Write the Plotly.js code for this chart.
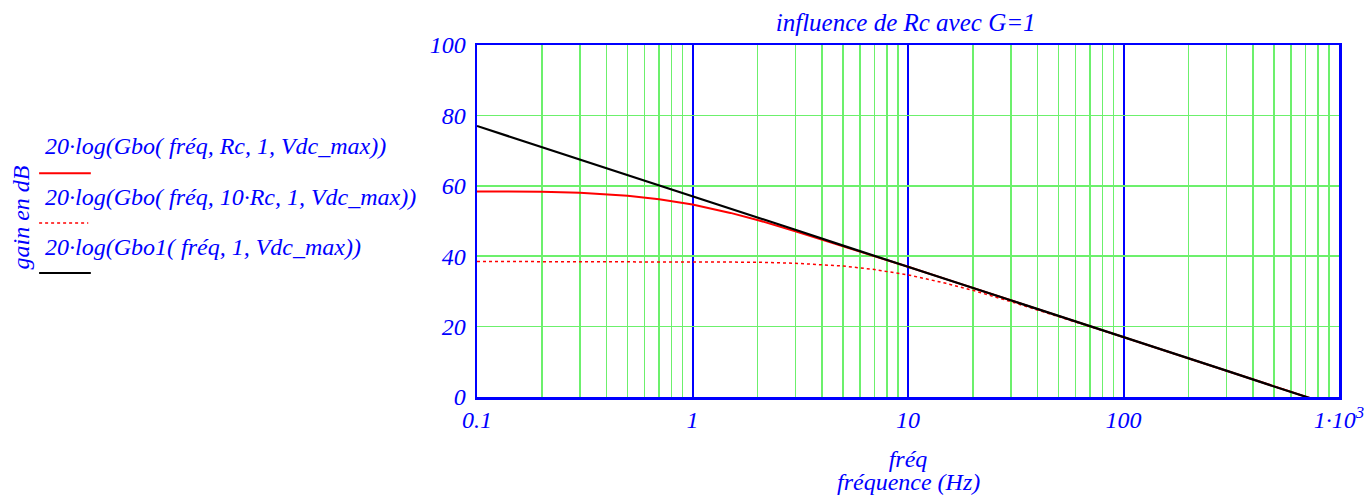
<!DOCTYPE html>
<html>
<head>
<meta charset="utf-8">
<script src="https://cdn.plot.ly/plotly-3.0.1.min.js"></script>
<style>
  html, body { margin: 0; padding: 0; background: #fff; }
  #chart { width: 1364px; height: 495px; }
</style>
</head>
<body>
<div id="chart"></div>
<script>
// fréquence (Hz), valeurs
const freq = [0.1, 0.15, 0.2, 0.3, 0.5, 0.7, 1, 1.5, 2, 3, 5, 7, 10, 15, 20, 30, 50, 70, 100, 150, 200, 300, 500, 700, 1000];

// 20·log(Gbo(fréq, Rc, 1, Vdc_max))
const gainRc = [58.4, 58.4, 58.3, 58.0, 57.2, 56.2, 54.7, 52.3, 50.3, 47.1, 42.9, 40.0, 37.0, 33.5, 31.0, 27.5, 23.0, 20.1, 17.0, 13.5, 11.0, 7.5, 3.0, 0.1, -3.0];

// 20·log(Gbo(fréq, 10·Rc, 1, Vdc_max))
const gain10Rc = [38.5, 38.5, 38.5, 38.5, 38.5, 38.5, 38.4, 38.4, 38.3, 38.0, 37.2, 36.2, 34.7, 32.3, 30.3, 27.1, 22.9, 20.0, 17.0, 13.5, 11.0, 7.4, 3.0, 0.1, -3.0];

// 20·log(Gbo1(fréq, 1, Vdc_max))
const gainGbo1 = [77.0, 73.5, 71.0, 67.5, 63.0, 60.1, 57.0, 53.5, 51.0, 47.5, 43.0, 40.1, 37.0, 33.5, 31.0, 27.5, 23.0, 20.1, 17.0, 13.5, 11.0, 7.5, 3.0, 0.1, -3.0];

const xTickVals = [0.1, 1, 10, 100, 1000];
const xTickText = ["0.1", "1", "10", "100", "1·10<sup>3</sup>"];
const yTickVals = [0, 20, 40, 60, 80, 100];

const legendNames = [
    "20·log(Gbo( fréq, Rc, 1, Vdc_max))",
    "20·log(Gbo( fréq, 10·Rc, 1, Vdc_max))",
    "20·log(Gbo1( fréq, 1, Vdc_max))"
];

const blue = "#0000ff";
const green = "#6cf06c";
const serif = "Liberation Serif, Times New Roman, serif";
const font = {family: serif, size: 24, color: blue, style: "italic"};

const traces = [
    {x: freq, y: gainRc, name: legendNames[0], type: "scatter", mode: "lines",
        line: {color: "#ff0000", width: 2}},
    {x: freq, y: gain10Rc, name: legendNames[1], type: "scatter", mode: "lines",
        line: {color: "#ff0000", width: 1.5, dash: "dot"}},
    {x: freq, y: gainGbo1, name: legendNames[2], type: "scatter", mode: "lines",
        line: {color: "#000000", width: 2.2}}
];

// mathcad style legend: text with a sample line underneath
const legendStyles = [
    {color: "#ff0000", width: 2, dash: "solid", x1: -0.448},
    {color: "#ff0000", width: 1.5, dash: "dot", x1: -0.451},
    {color: "#000000", width: 2, dash: "solid", x1: -0.448}
];
const legendTextY = [0.712, 0.567, 0.425];
const legendLineY = [0.636, 0.494, 0.352];

const annotations = legendNames.map((name, i) => ({
    text: name, xref: "paper", yref: "paper", x: -0.503, y: legendTextY[i],
    xanchor: "left", yanchor: "middle", showarrow: false, font: font
}));
annotations.push({
    text: "gain en dB", xref: "paper", yref: "paper", x: -0.529, y: 0.51,
    xanchor: "center", yanchor: "middle", textangle: -90, showarrow: false, font: font
});
annotations.push({
    text: "fréquence (Hz)", xref: "paper", yref: "paper", x: 0.5, y: -0.242,
    xanchor: "center", yanchor: "middle", showarrow: false, font: font
});

const shapes = legendStyles.map((s, i) => ({
    type: "line", xref: "paper", yref: "paper",
    x0: -0.508, x1: s.x1, y0: legendLineY[i], y1: legendLineY[i],
    line: {color: s.color, width: s.width, dash: s.dash}
}));

const layout = {
    width: 1364,
    height: 495,
    margin: {t: 45, r: 25, b: 98, l: 477},
    paper_bgcolor: "#ffffff",
    plot_bgcolor: "#ffffff",
    showlegend: false,
    font: font,
    title: {text: "influence de Rc avec G=1", font: {...font, size: 25}, x: 0.664, xanchor: "center", y: 0.955, yanchor: "middle"},
    xaxis: {
        type: "log",
        range: [-1, 3],
        tickvals: xTickVals,
        ticktext: xTickText,
        ticks: "",
        tickfont: font,
        ticklabeloverflow: "allow",
        showgrid: true,
        gridcolor: blue,
        gridwidth: 2,
        minor: {dtick: "D1", showgrid: true, gridcolor: green, gridwidth: 1.5, ticks: ""},
        showline: true,
        linecolor: blue,
        linewidth: 2.5,
        mirror: true,
        zeroline: false,
        title: {text: "fréq", font: font, standoff: 18}
    },
    yaxis: {
        range: [0, 100],
        tickvals: yTickVals,
        ticks: "",
        tickfont: font,
        ticklabelstandoff: 4,
        showgrid: true,
        gridcolor: green,
        gridwidth: 1.5,
        showline: true,
        linecolor: blue,
        linewidth: 2.5,
        mirror: true,
        zeroline: false
    },
    annotations: annotations,
    shapes: shapes
};

Plotly.newPlot("chart", traces, layout, {staticPlot: true, displayModeBar: false});
</script>
</body>
</html>
